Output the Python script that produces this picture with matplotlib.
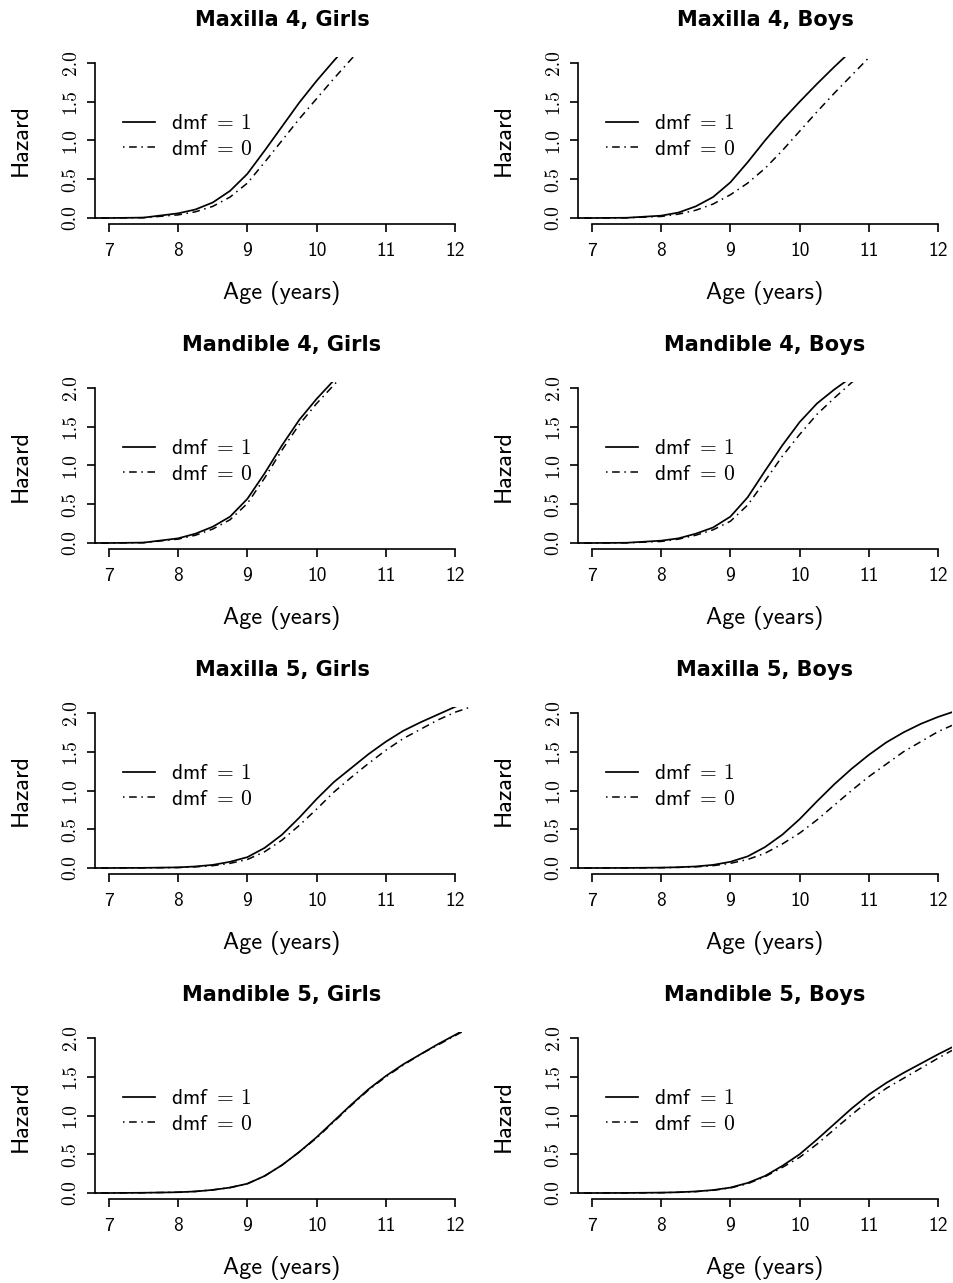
import numpy as np
import matplotlib
matplotlib.use("Agg")
import matplotlib.pyplot as plt

plt.rcParams['mathtext.fontset'] = 'cm'
plt.rcParams['axes.unicode_minus'] = False
plt.rcParams['font.family'] = ['cmss10', 'DejaVu Sans']

nan = np.nan
# ages (years) at which curves were read
ages = [6.8, 7.0, 7.5, 8.0, 8.25, 8.5, 8.75, 9.0, 9.25, 9.5, 9.75, 10.0,
        10.25, 10.5, 10.75, 11.0, 11.25, 11.5, 11.75, 12.0, 12.2]

titles = ["Maxilla 4, Girls", "Maxilla 4, Boys",
          "Mandible 4, Girls", "Mandible 4, Boys",
          "Maxilla 5, Girls", "Maxilla 5, Boys",
          "Mandible 5, Girls", "Mandible 5, Boys"]

# hazard curves, dmf = 1 (solid) and dmf = 0 (dot-dash)
mx4_girls_1 = [0, 0, 0.005, 0.06, 0.11, 0.20, 0.35, 0.57, 0.87, 1.18, 1.49, 1.77, 2.03, 2.28] + [nan] * 7
mx4_girls_0 = [0, 0, 0.004, 0.04, 0.08, 0.15, 0.27, 0.45, 0.72, 1.00, 1.28, 1.54, 1.80, 2.05, 2.30] + [nan] * 6
mx4_boys_1 = [0, 0, 0.003, 0.03, 0.07, 0.15, 0.27, 0.46, 0.72, 1.00, 1.26, 1.50, 1.73, 1.95, 2.16] + [nan] * 6
mx4_boys_0 = [0, 0, 0.002, 0.02, 0.05, 0.10, 0.18, 0.30, 0.45, 0.64, 0.87, 1.12, 1.37, 1.61, 1.84, 2.07, 2.30] + [nan] * 4
md4_girls_1 = [0, 0, 0.005, 0.06, 0.12, 0.21, 0.34, 0.57, 0.90, 1.26, 1.59, 1.86, 2.10] + [nan] * 8
md4_girls_0 = [0, 0, 0.004, 0.05, 0.10, 0.18, 0.30, 0.51, 0.84, 1.20, 1.53, 1.80, 2.04, 2.28] + [nan] * 7
md4_boys_1 = [0, 0, 0.003, 0.03, 0.06, 0.12, 0.20, 0.34, 0.59, 0.93, 1.26, 1.56, 1.80, 1.98, 2.14] + [nan] * 6
md4_boys_0 = [0, 0, 0.002, 0.02, 0.05, 0.10, 0.17, 0.28, 0.49, 0.80, 1.12, 1.40, 1.66, 1.87, 2.07, 2.25] + [nan] * 5
mx5_girls_1 = [0, 0, 0.002, 0.008, 0.02, 0.04, 0.08, 0.14, 0.26, 0.43, 0.65, 0.89, 1.11, 1.29, 1.47, 1.63, 1.77, 1.88, 1.98, 2.08, 2.15]
mx5_girls_0 = [0, 0, 0.002, 0.006, 0.015, 0.03, 0.06, 0.11, 0.21, 0.36, 0.55, 0.76, 0.98, 1.17, 1.35, 1.52, 1.67, 1.79, 1.91, 2.01, 2.07]
mx5_boys_1 = [0, 0, 0.001, 0.005, 0.01, 0.02, 0.04, 0.08, 0.15, 0.27, 0.43, 0.63, 0.86, 1.08, 1.28, 1.46, 1.62, 1.75, 1.86, 1.95, 2.01]
mx5_boys_0 = [0, 0, 0.001, 0.004, 0.008, 0.015, 0.03, 0.06, 0.11, 0.19, 0.31, 0.45, 0.62, 0.81, 1.00, 1.18, 1.34, 1.50, 1.63, 1.76, 1.84]
md5_girls_1 = [0, 0, 0.003, 0.01, 0.02, 0.04, 0.07, 0.12, 0.22, 0.36, 0.53, 0.72, 0.93, 1.14, 1.34, 1.51, 1.66, 1.79, 1.92, 2.04, 2.14]
md5_girls_0 = [0, 0, 0.003, 0.01, 0.02, 0.04, 0.07, 0.12, 0.22, 0.36, 0.53, 0.71, 0.92, 1.13, 1.33, 1.50, 1.65, 1.79, 1.91, 2.03, 2.13]
md5_boys_1 = [0, 0, 0.001, 0.005, 0.01, 0.02, 0.038, 0.07, 0.13, 0.22, 0.35, 0.50, 0.69, 0.89, 1.09, 1.27, 1.42, 1.55, 1.67, 1.79, 1.88]
md5_boys_0 = [0, 0, 0.001, 0.004, 0.009, 0.018, 0.035, 0.065, 0.12, 0.21, 0.33, 0.46, 0.63, 0.82, 1.01, 1.19, 1.35, 1.48, 1.61, 1.74, 1.84]

curves = [(mx4_girls_1, mx4_girls_0), (mx4_boys_1, mx4_boys_0),
          (md4_girls_1, md4_girls_0), (md4_boys_1, md4_boys_0),
          (mx5_girls_1, mx5_girls_0), (mx5_boys_1, mx5_boys_0),
          (md5_girls_1, md5_girls_0), (md5_boys_1, md5_boys_0)]

xticks = [7, 8, 9, 10, 11, 12]
yticks = [0.0, 0.5, 1.0, 1.5, 2.0]

W, H = 954, 1283
fig = plt.figure(figsize=(W / 100, H / 100), dpi=100)

col_left = [95, 578]
ax_w = 374
ax_h = 167.4
row_top = [56.8, 381.8, 706.8, 1031.8]
dotdash = (0, (1, 3, 5, 3))

for i, (title, (y1, y0)) in enumerate(zip(titles, curves)):
    r, c = divmod(i, 2)
    ax = fig.add_axes([col_left[c] / W, (H - row_top[r] - ax_h) / H, ax_w / W, ax_h / H])
    ax.plot(ages, y1, color='black', lw=1.25, ls='-', label=r'dmf $=\,1$')
    ax.plot(ages, y0, color='black', lw=1.1, ls=dotdash, label=r'dmf $=\,0$')
    ax.set_xlim(6.8, 12.2)
    ax.set_ylim(-0.08, 2.08)
    for s in ['top', 'right']:
        ax.spines[s].set_visible(False)
    ax.spines['left'].set_bounds(0, 2)
    ax.spines['bottom'].set_bounds(7, 12)
    for s in ['left', 'bottom']:
        ax.spines[s].set_linewidth(1.2)
    ax.set_xticks(xticks)
    ax.set_yticks(yticks)
    ax.set_yticklabels(['%.1f' % v for v in yticks], family='cmr10')
    ax.tick_params(axis='both', direction='out', length=6, width=1.2, labelsize=14)
    ax.tick_params(axis='x', pad=7)
    ax.tick_params(axis='y', pad=5, labelrotation=90)
    for lab in ax.get_yticklabels():
        lab.set_va('center')
    ax.set_title(title, fontsize=15, fontweight='bold', family='DejaVu Sans', pad=22)
    ax.set_xlabel('Age (years)', fontsize=17.5)
    ax.set_ylabel('Hazard', fontsize=17.5)
    ax.xaxis.set_label_coords(0.5, -0.34)
    ax.yaxis.set_label_coords(-0.17, 0.5)
    ax.legend(loc='center left', bbox_to_anchor=(0.075, 0.524), frameon=False,
              borderpad=0, borderaxespad=0, handlelength=1.5, handletextpad=0.75,
              labelspacing=0.3, fontsize=15.5)

fig.savefig('out.png', dpi=100)
